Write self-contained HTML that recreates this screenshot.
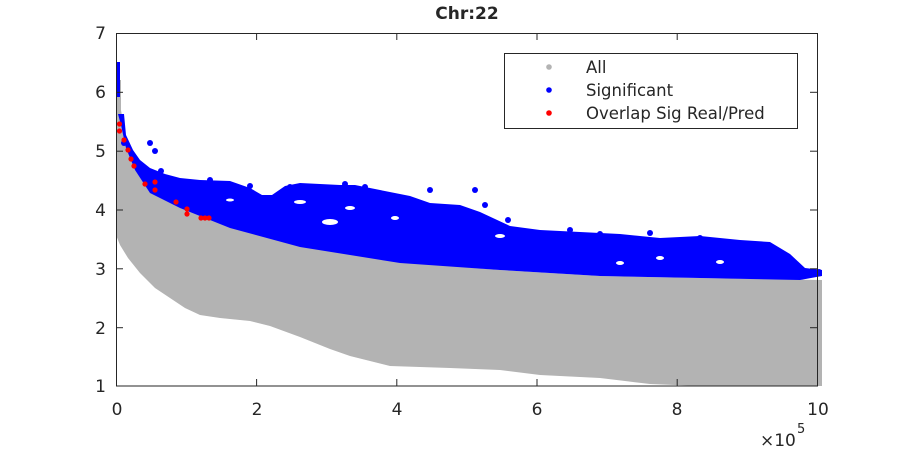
<!DOCTYPE html>
<html><head><style>html,body{margin:0;padding:0;background:#fff;}svg{display:block;}text{font-family:"DejaVu Sans","Liberation Sans",sans-serif;fill:#262626;}</style></head>
<body>
<svg width="900" height="450" viewBox="0 0 900 450" xmlns="http://www.w3.org/2000/svg">
<rect width="900" height="450" fill="#fff"/>
<path fill="#b3b3b3" d="M116,80 L121,80 L121,110 L126,140 L135,165 L150,190 L180,205 L230,225 L300,245 L400,262 L500,270 L600,276 L700,278 L822,280 L822,386 L700,386 L650,384 L600,378 L540,375 L500,370 L450,368 L390,366 L350,356 L330,349 L300,337 L270,326 L250,321 L220,318 L200,315 L185,308 L170,298 L155,288 L140,273 L128,258 L120,245 L116,235 Z"/>
<path fill="#0000ff" d="M116,62 L120,62 L120,97 L116,97 Z"/>
<path fill="#0000ff" d="M118,114 L124,114 L126,135 L133,150 L140,160 L150,168 L165,174 L180,178 L200,180 L230,181 L250,188 L262,195 L272,195 L285,186 L300,183 L340,185 L355,185 L380,190 L410,196 L430,203 L460,205 L480,212 L510,226 L540,230 L580,232 L620,234 L660,238 L700,236 L740,240 L770,242 L790,254 L805,268 L822,270 L822,276 L800,280 L700,278 L600,276 L500,270 L400,263 L300,247 L230,228 L180,208 L150,193 L135,170 L126,148 L121,125 Z"/>
<g fill="#0000ff">
<circle cx="124" cy="143" r="3"/><circle cx="150" cy="143" r="3"/><circle cx="155" cy="151" r="3"/><circle cx="161" cy="171" r="3"/>
<circle cx="345" cy="184" r="3"/><circle cx="313" cy="195" r="3"/><circle cx="430" cy="190" r="3"/><circle cx="475" cy="190" r="3"/><circle cx="485" cy="205" r="3"/>
<circle cx="508" cy="220" r="3"/><circle cx="515" cy="230" r="3"/><circle cx="600" cy="234" r="3"/><circle cx="650" cy="233" r="3"/><circle cx="700" cy="238" r="3"/>
<circle cx="778" cy="253" r="3"/><circle cx="815" cy="272" r="3"/><circle cx="819" cy="272" r="3"/><circle cx="290" cy="187" r="3"/><circle cx="365" cy="187" r="3"/>
<circle cx="250" cy="186" r="3"/><circle cx="210" cy="180" r="3"/><circle cx="570" cy="230" r="3"/>
</g>
<g fill="#fff">
<ellipse cx="330" cy="222" rx="8" ry="3"/><ellipse cx="350" cy="208" rx="5" ry="2"/><ellipse cx="395" cy="218" rx="4" ry="2"/><ellipse cx="500" cy="236" rx="5" ry="2"/>
<ellipse cx="620" cy="263" rx="4" ry="2"/><ellipse cx="660" cy="258" rx="4" ry="2"/><ellipse cx="720" cy="262" rx="4" ry="2"/>
<ellipse cx="300" cy="202" rx="6" ry="2"/><ellipse cx="230" cy="200" rx="4" ry="1.5"/>
</g>
<g fill="#ff0000">
<circle cx="119.5" cy="124" r="2.6"/><circle cx="119.5" cy="131" r="2.6"/><circle cx="124" cy="140" r="2.6"/><circle cx="128" cy="150" r="2.6"/>
<circle cx="131" cy="159" r="2.6"/><circle cx="134" cy="166" r="2.6"/><circle cx="145" cy="184" r="2.6"/><circle cx="155" cy="182" r="2.6"/>
<circle cx="155" cy="190" r="2.6"/><circle cx="176" cy="202" r="2.6"/><circle cx="187" cy="209" r="2.6"/><circle cx="187" cy="214" r="2.6"/>
<circle cx="201" cy="218" r="2.6"/><circle cx="205" cy="218" r="2.6"/><circle cx="209" cy="218" r="2.6"/>
</g>
<rect x="116.5" y="33.5" width="701" height="352.5" fill="none" stroke="#262626" stroke-width="1"/>
<g stroke="#262626" stroke-width="1">
<line x1="116" y1="92.3" x2="123" y2="92.3"/><line x1="116" y1="151.2" x2="123" y2="151.2"/><line x1="116" y1="210" x2="123" y2="210"/><line x1="116" y1="268.8" x2="123" y2="268.8"/><line x1="116" y1="327.7" x2="123" y2="327.7"/>
<line x1="817" y1="92.3" x2="810" y2="92.3"/><line x1="817" y1="151.2" x2="810" y2="151.2"/><line x1="817" y1="210" x2="810" y2="210"/><line x1="817" y1="268.8" x2="810" y2="268.8"/><line x1="817" y1="327.7" x2="810" y2="327.7"/>
<line x1="256.6" y1="386" x2="256.6" y2="379"/><line x1="396.8" y1="386" x2="396.8" y2="379"/><line x1="537" y1="386" x2="537" y2="379"/><line x1="677.2" y1="386" x2="677.2" y2="379"/>
<line x1="256.6" y1="33" x2="256.6" y2="40"/><line x1="396.8" y1="33" x2="396.8" y2="40"/><line x1="537" y1="33" x2="537" y2="40"/><line x1="677.2" y1="33" x2="677.2" y2="40"/>
</g>
<g font-size="17" text-anchor="end">
<text x="106" y="39">7</text><text x="106" y="98">6</text><text x="106" y="157">5</text><text x="106" y="216">4</text><text x="106" y="275">3</text><text x="106" y="334">2</text><text x="106" y="392">1</text>
</g>
<g font-size="17" text-anchor="middle">
<text x="117" y="415">0</text><text x="257" y="415">2</text><text x="397" y="415">4</text><text x="537" y="415">6</text><text x="677" y="415">8</text><text x="818" y="415">10</text>
</g>
<text x="760" y="446" font-size="17">×10</text><text x="797" y="433" font-size="13">5</text>
<text x="467" y="19" font-size="17" font-weight="bold" text-anchor="middle">Chr:22</text>
<rect x="504.5" y="53.5" width="293" height="75" fill="#fff" stroke="#262626" stroke-width="1"/>
<circle cx="549" cy="67" r="2.8" fill="#b3b3b3"/><circle cx="549" cy="90" r="2.8" fill="#0000ff"/><circle cx="549" cy="113" r="2.8" fill="#ff0000"/>
<g font-size="16.5"><text x="586" y="73">All</text><text x="586" y="96">Significant</text><text x="586" y="119">Overlap Sig Real/Pred</text></g>
</svg>
</body></html>
